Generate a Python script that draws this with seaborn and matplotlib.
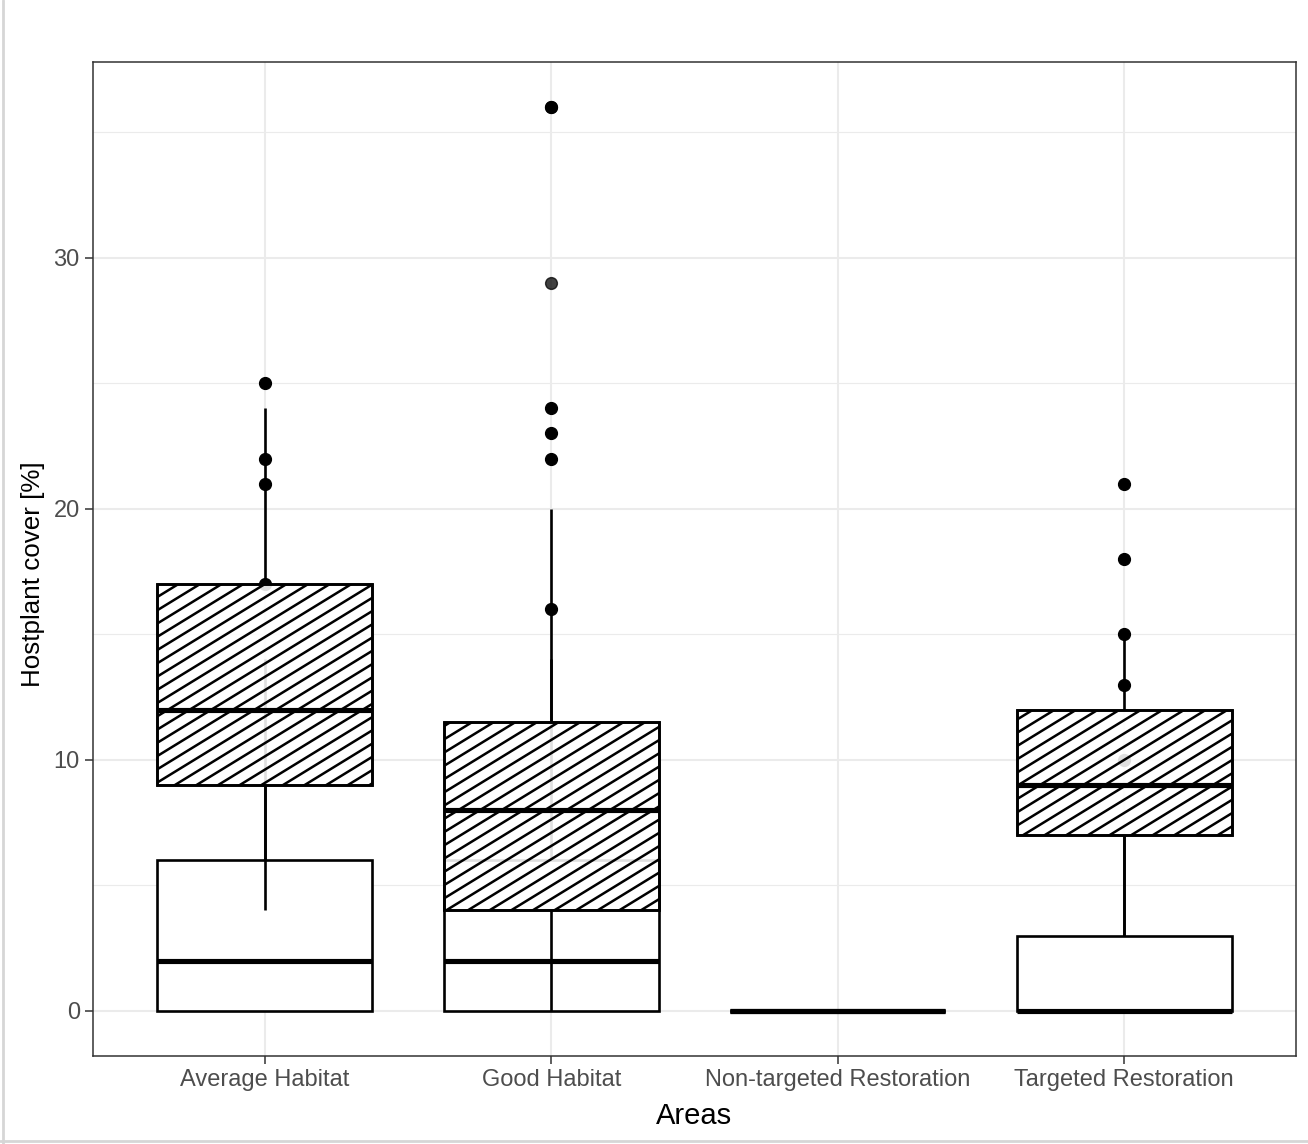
import matplotlib
matplotlib.use("Agg")
import matplotlib.pyplot as plt
from matplotlib.collections import LineCollection
from matplotlib.lines import Line2D
from matplotlib.patches import PathPatch
from matplotlib.ticker import MultipleLocator
from matplotlib.transforms import IdentityTransform
import numpy as np
import pandas as pd
import seaborn as sns

areas = ["Average Habitat", "Good Habitat", "Non-targeted Restoration", "Targeted Restoration"]

# open (white) boxes, drawn first
open_average = [0, 0, 0, 0, 0, 0, 1, 1, 2, 2, 2, 3, 4, 5, 6, 6, 14, 17, 21, 22, 25]
open_good = [0, 0, 0, 0, 0, 0, 0, 1, 1, 1, 2, 2, 2, 3, 3, 4, 5, 6, 6, 14, 16, 22, 23, 24, 36]
open_nontargeted = [0, 0, 0, 0, 0]
open_targeted = [0] * 13 + [1, 1, 2, 2, 3, 3, 7, 10, 13, 15, 18, 21]

# hatched boxes, drawn on top
hatch_average = [4, 8, 9, 11, 12, 15, 17, 20, 24]
hatch_good = [0, 2, 3, 4, 6, 7, 8, 9, 10, 11.5, 20, 29, 36]
hatch_nontargeted = [0, 0, 0, 0, 0]
hatch_targeted = [3, 6, 7, 8, 9, 10, 12, 13, 15]


def long_table(groups):
    rows = []
    for area, values in zip(areas, groups):
        rows += [(area, v) for v in values]
    return pd.DataFrame(rows, columns=["Areas", "cover"])


def add_stripes(ax, patch, angle=31.5, spacing=11.3, lw=1.8):
    ext = patch.get_path().get_extents(patch.get_transform())
    if ext.height < 1:
        return
    a = np.deg2rad(angle)
    d = np.array([np.cos(a), np.sin(a)])
    n = np.array([-np.sin(a), np.cos(a)])
    corners = np.array([[ext.x0, ext.y0], [ext.x1, ext.y0], [ext.x0, ext.y1], [ext.x1, ext.y1]])
    proj = corners @ n
    mid = np.array([(ext.x0 + ext.x1) / 2, (ext.y0 + ext.y1) / 2])
    L = np.hypot(ext.width, ext.height)
    segs = []
    c = np.floor(proj.min() / spacing) * spacing
    while c <= proj.max() + spacing:
        base = c * n
        p0 = base + ((mid - base) @ d) * d
        segs.append([p0 - L * d, p0 + L * d])
        c += spacing
    lc = LineCollection(segs, colors="black", linewidths=lw,
                        transform=IdentityTransform(), zorder=2.05)
    lc.set_clip_path(patch)
    ax.add_collection(lc, autolim=False)
    edge = PathPatch(patch.get_path(), transform=patch.get_transform(), fill=False,
                     edgecolor="black", linewidth=patch.get_linewidth(), zorder=2.07)
    ax.add_patch(edge)


open_df = long_table([open_average, open_good, open_nontargeted, open_targeted])
hatch_df = long_table([hatch_average, hatch_good, hatch_nontargeted, hatch_targeted])

sns.set_style("white")
plt.rcParams["font.family"] = ["Liberation Sans", "DejaVu Sans"]

fig = plt.figure(figsize=(13.08, 11.44), dpi=100)
ax = fig.add_axes([93 / 1308, 1 - 1056 / 1144, (1296 - 93) / 1308, (1056 - 62) / 1144])

box_kws = dict(x="Areas", y="cover", order=areas, color="white", saturation=1,
               width=0.75, linecolor="black", linewidth=1.9, fliersize=8.5,
               showcaps=False, medianprops={"linewidth": 3.7}, ax=ax)

sns.boxplot(data=open_df,
            flierprops={"marker": "o", "markerfacecolor": "black", "markeredgecolor": "black"},
            **box_kws)
n_before = len(ax.patches)
sns.boxplot(data=hatch_df,
            flierprops={"marker": "o", "markerfacecolor": "black", "markeredgecolor": "black",
                        "alpha": 0.75},
            **box_kws)
hatched = list(ax.patches[n_before:])

ax.set_xlim(-0.6, 3.6)
ax.set_ylim(-1.8, 37.8)
ax.yaxis.set_major_locator(MultipleLocator(10))
ax.yaxis.set_minor_locator(MultipleLocator(5))

for p in hatched:
    p.set_facecolor((1, 1, 1, 0.88))
    add_stripes(ax, p)

ax.set_axisbelow(True)
ax.grid(True, which="major", color="#EBEBEB", linewidth=1.5)
ax.yaxis.grid(True, which="minor", color="#EBEBEB", linewidth=0.8)

for s in ax.spines.values():
    s.set_visible(True)
    s.set_color("#333333")
    s.set_linewidth(1.1)

ax.tick_params(axis="both", which="major", length=5.5, width=1.1, color="#333333",
               labelcolor="#4D4D4D", labelsize=17, pad=4, direction="out",
               bottom=True, left=True)
ax.tick_params(axis="y", which="minor", length=0)

ax.set_xlabel("Areas", fontsize=21, color="black", labelpad=8)
ax.set_ylabel("Hostplant cover [%]", fontsize=18.7, color="black")
ax.yaxis.set_label_coords(-0.040, 0.485)

# screenshot frame edges
fig.add_artist(Line2D([0.002, 0.002], [0, 1], transform=fig.transFigure, color="#D6D6D6", linewidth=2))
fig.add_artist(Line2D([0, 1], [0.003, 0.003], transform=fig.transFigure, color="#D6D6D6", linewidth=2))

fig.savefig("out.png", dpi=100)
